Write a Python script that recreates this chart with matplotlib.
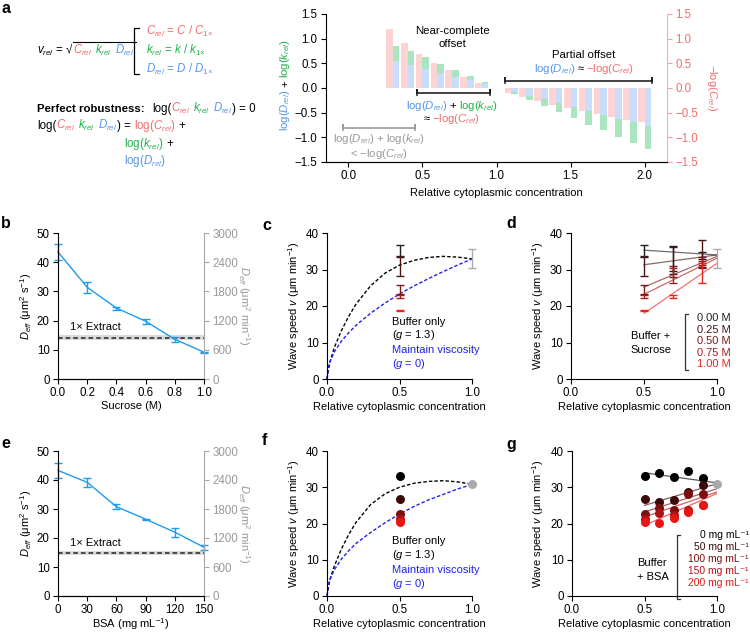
import matplotlib
matplotlib.use('Agg')
import matplotlib.pyplot as plt
import matplotlib.transforms as mtransforms
from matplotlib.lines import Line2D

plt.rcParams['font.family'] = ['Liberation Sans', 'DejaVu Sans']
plt.rcParams['mathtext.fontset'] = 'custom'
plt.rcParams['mathtext.rm'] = 'Liberation Sans'
plt.rcParams['mathtext.it'] = 'Liberation Sans:italic'
plt.rcParams['mathtext.bf'] = 'Liberation Sans:bold'
plt.rcParams['font.size'] = 8
plt.rcParams['axes.linewidth'] = 0.8
plt.rcParams['axes.labelpad'] = 2.5
for a in ['xtick', 'ytick']:
    plt.rcParams[a + '.major.size'] = 3.5
    plt.rcParams[a + '.major.width'] = 0.8
    plt.rcParams[a + '.labelsize'] = 8.3
    plt.rcParams[a + '.major.pad'] = 2.5

# --- datos panel a ---
conc_lo = [0.3, 0.4, 0.5, 0.6, 0.7, 0.8, 0.9]
conc_hi = [1.1, 1.2, 1.3, 1.4, 1.5, 1.6, 1.7, 1.8, 1.9, 2.0]
neglogC_lo = [1.20, 0.92, 0.69, 0.51, 0.36, 0.22, 0.11]
neglogC_hi = [-0.10, -0.18, -0.26, -0.34, -0.41, -0.47, -0.53, -0.59, -0.64, -0.69]
logD_lo = [0.54, 0.46, 0.39, 0.31, 0.23, 0.16, 0.08]
logk_lo = [0.32, 0.28, 0.23, 0.18, 0.14, 0.08, 0.04]
logD_hi = [-0.075, -0.16, -0.23, -0.31, -0.39, -0.47, -0.54, -0.62, -0.69, -0.77]
logk_hi = [-0.04, -0.08, -0.14, -0.18, -0.22, -0.27, -0.32, -0.37, -0.42, -0.46]

# --- datos paneles b / e ---
sucrose_M = [0.0, 0.2, 0.4, 0.6, 0.8, 1.0]
d_sucrose = [43.5, 31.4, 24.3, 19.8, 13.6, 9.2]
d_sucrose_err = [2.6, 1.8, 0.5, 0.9, 0.9, 0.2]
extract_suc = [13.2, 14.1, 15.0]   # banda inferior, media, banda superior
bsa_mg = [0, 30, 60, 90, 120, 150]
d_bsa = [43.3, 39.2, 30.8, 26.5, 22.0, 16.8]
d_bsa_err = [2.5, 1.6, 0.8, 0.2, 1.6, 0.9]
extract_bsa = [14.1, 14.8, 15.6]

# --- curvas de modelo (c / f) ---
model_x = [0, 0.01, 0.02, 0.05, 0.1, 0.15, 0.2, 0.3, 0.4, 0.5, 0.6, 0.7, 0.8, 0.9, 1.0]
model_buf_c = [0, 2.5, 4.6, 8.6, 13.3, 17.2, 20.5, 25.5, 29.0, 31.2, 32.5, 33.3, 33.6, 33.4, 32.9]
model_visc_c = [0, 3.3, 4.7, 7.4, 10.4, 12.7, 14.7, 18.0, 20.8, 23.3, 25.5, 27.5, 29.4, 31.2, 32.9]
model_buf_f = [0, 2.4, 4.5, 8.2, 13.0, 17.0, 20.3, 25.2, 28.2, 30.0, 31.1, 31.6, 31.8, 31.5, 30.8]
model_visc_f = [0, 3.1, 4.5, 7.2, 10.2, 12.5, 14.5, 17.5, 20.2, 22.6, 24.7, 26.5, 28.0, 29.5, 30.8]

# --- velocidades con sacarosa (c / d) ---
suc_conc = [0.5, 0.7, 0.9]
suc_labels = ['0.00 M', '0.25 M', '0.50 M', '0.75 M', '1.00 M']
suc_colors = ['#231f20', '#4d1616', '#7d1a1a', '#a81c1c', '#ec2420']
suc_speed = [[35.0, 33.0, 33.8], [31.0, 32.5, 34.5], [24.5, 29.5, 32.0],
             [22.6, 28.3, 31.8], [18.8, 22.7, 29.0]]
suc_err = [[1.6, 3.5, 1.0], [2.7, 3.8, 3.7], [1.2, 1.5, 1.5],
           [0.3, 2.0, 0.6], [0.1, 0.4, 2.8]]
fit_x = [0.5, 1.0]
suc_fit = [[35.3, 34.0], [31.3, 34.0], [25.2, 33.6], [23.2, 33.1], [18.0, 31.7]]
ref_suc = [33.0, 2.6]   # extracto 1x (media, error)

# --- velocidades con BSA (f / g) ---
bsa_conc = [0.5, 0.6, 0.7, 0.8, 0.9]
bsa_labels = ['0 mg mL⁻¹', '50 mg mL⁻¹', '100 mg mL⁻¹', '150 mg mL⁻¹', '200 mg mL⁻¹']
bsa_colors = ['#000000', '#3d0a0a', '#7a0f0f', '#b01313', '#e81515']
bsa_speed = [[33.2, 34.0, 32.9, 34.4, 32.5], [26.8, 25.8, 26.6, 28.6, 30.6],
             [22.6, 24.2, 23.8, 28.2, 28.2], [21.2, 22.8, 22.4, 23.6, 25.1],
             [20.3, 20.2, 21.4, 23.2, 25.0]]
bsa_fit = [[34.0, 31.2], [25.0, 31.0], [23.2, 29.6], [21.8, 28.7], [19.5, 28.3]]
ref_bsa = 30.8

RED = '#f26d6d'
GREEN = '#1fb24a'
BLUE = '#5596f0'
GRAY = '#999999'
LBLUE = '#1e9bf0'
VBLUE = '#2020f0'

W, H = 750, 632
fig = plt.figure(figsize=(W / 100, H / 100), dpi=100)
pix = mtransforms.Affine2D().scale(1 / W, -1 / H).translate(0, 1) + fig.transFigure


def rect(l, t, r, b):
    return [l / W, 1 - b / H, (r - l) / W, (b - t) / H]


def ctext(x, y, pieces, transform, ha='left', rot=0, size=8.3, dy=0):
    # texto de varios colores, pieza por pieza
    r = fig.canvas.get_renderer()
    sp = 0.22 * size * fig.dpi / 72
    items = []
    for s, c in pieces:
        lead = len(s) - len(s.lstrip(' '))
        trail = len(s) - len(s.rstrip(' '))
        t = fig.text(0, 0, s.strip(' '), color=c, size=size, rotation=rot,
                     rotation_mode='anchor', ha='left', va='baseline')
        bb = t.get_window_extent(r)
        w = bb.height if rot else bb.width
        items.append((t, lead * sp, w, trail * sp))
    total = sum(a + b + c for _, a, b, c in items)
    off = {'left': 0, 'center': -total / 2, 'right': -total}[ha]
    for t, lead, w, trail in items:
        off += lead
        if rot == 90:
            ox, oy = dy, off
        elif rot == 270:
            ox, oy = dy, -off
        else:
            ox, oy = off, dy
        t.set_transform(mtransforms.offset_copy(transform, fig=fig, x=ox, y=oy, units='dots'))
        t.set_position((x, y))
        off += w + trail
    return [it[0] for it in items]


def style(ax):
    ax.spines['top'].set_visible(False)
    ax.spines['right'].set_visible(False)


def bracket(ax, x0, x1, y, color, h=0.05):
    ax.plot([x0, x0, x0, x1, x1, x1], [y - h, y + h, y, y, y + h, y - h],
            color=color, lw=1.2, clip_on=False)


# ================= panel a (ecuaciones) =================
R = 'black'
t1 = ctext(37, 54, [('$v_{rel}$ = √', R), ('$C_{rel}$', RED), (' $k_{rel}$', GREEN),
                    (' $D_{rel}$', BLUE)], pix)
rdr = fig.canvas.get_renderer()
bb_s = t1[0].get_window_extent(rdr)
bb_e = t1[-1].get_window_extent(rdr)
fig.add_artist(Line2D([bb_s.x1 - 0.5, bb_e.x1 + 2], [bb_s.y1, bb_s.y1], lw=0.8, color=R,
                      transform=mtransforms.IdentityTransform()))
fig.add_artist(Line2D([139 / W, 134 / W, 134 / W, 139 / W],
                      [1 - 28 / H, 1 - 28 / H, 1 - 74 / H, 1 - 74 / H], lw=0.9, color=R))
ctext(146, 35, [('$C_{rel}$ = $C$ / $C_{1×}$', RED)], pix)
ctext(146, 54, [('$k_{rel}$ = $k$ / $k_{1×}$', GREEN)], pix)
ctext(146, 73, [('$D_{rel}$ = $D$ / $D_{1×}$', BLUE)], pix)
fig.text(37 / W, 1 - 112 / H, 'Perfect robustness:', weight='bold', size=8.2, va='baseline')
ctext(152, 112, [('log(', R), ('$C_{rel}$', RED), (' $k_{rel}$', GREEN), (' $D_{rel}$', BLUE),
                 (') = 0', R)], pix)
ctext(37, 129, [('log(', R), ('$C_{rel}$', RED), (' $k_{rel}$', GREEN), (' $D_{rel}$', BLUE),
                (') = ', R), ('log($C_{rel}$)', RED), (' +', R)], pix)
ctext(124, 147, [('log($k_{rel}$)', GREEN), (' +', R)], pix)
ctext(124, 164, [('log($D_{rel}$)', BLUE)], pix)

# ================= panel a (barras) =================
axa = fig.add_axes(rect(326, 14, 667, 162))
bw = 0.045
for cx, nc, ld, lk in [(conc_lo, neglogC_lo, logD_lo, logk_lo),
                       (conc_hi, neglogC_hi, logD_hi, logk_hi)]:
    axa.bar([c - bw for c in cx], nc, bw, align='edge', color='#fdd3d3', lw=0)
    axa.bar(cx, ld, bw, align='edge', color='#c9dcfa', lw=0)
    axa.bar(cx, lk, bw, bottom=ld, align='edge', color='#a9e6bf', lw=0)
axa.set_xlim(-0.15, 2.15)
axa.set_ylim(-1.5, 1.5)
axa.set_xticks([0, 0.5, 1.0, 1.5, 2.0])
axa.set_xticklabels(['0.0', '0.5', '1.0', '1.5', '2.0'])
axa.set_yticks([-1.5, -1.0, -0.5, 0, 0.5, 1.0, 1.5])
axa.set_yticklabels(['−1.5', '−1.0', '−0.5', '0.0', '0.5', '1.0', '1.5'])
axa.spines['top'].set_visible(False)
axa.spines['right'].set_visible(False)
axa.set_xlabel('Relative cytoplasmic concentration', labelpad=4)
axa2 = axa.twinx()
axa2.set_ylim(-1.5, 1.5)
axa2.set_yticks([-1.5, -1.0, -0.5, 0, 0.5, 1.0, 1.5])
axa2.set_yticklabels(['−1.5', '−1.0', '−0.5', '0.0', '0.5', '1.0', '1.5'])
axa2.spines['top'].set_visible(False)
axa2.spines['left'].set_visible(False)
axa2.spines['right'].set_color('#f9b0b0')
axa2.tick_params(axis='y', colors='#f9a0a0', labelcolor=RED)
ctext(709, 88, [('−log($C_{rel}$)', RED)], pix, ha='center', rot=270, size=8)
ctext(288, 85, [('log($D_{rel}$)', BLUE), (' + ', R), ('log($k_{rel}$)', GREEN)], pix,
      ha='center', rot=90, size=8.2)

tr = axa.transData
axa.text(0.70, 1.02, 'Near-complete\noffset', ha='center', va='center', size=8.2, linespacing=1.3)
bracket(axa, 0.464, 0.953, -0.095, '#222222')
ctext(0.70, -0.35, [('log($D_{rel}$)', BLUE), (' + ', R), ('log($k_{rel}$)', GREEN)], tr,
      ha='center', size=8.2, dy=-3.5)
ctext(0.70, -0.62, [('≈ ', R), ('−log($C_{rel}$)', RED)], tr, ha='center', size=8.2, dy=-3.5)
bracket(axa, -0.038, 0.448, -0.81, GRAY)
ctext(0.205, -1.03, [('log($D_{rel}$) + log($k_{rel}$)', GRAY)], tr, ha='center', size=8.2, dy=-3.5)
ctext(0.205, -1.33, [('< −log($C_{rel}$)', GRAY)], tr, ha='center', size=8.2, dy=-3.5)
axa.text(1.59, 0.67, 'Partial offset', ha='center', va='center', size=8.2)
ctext(1.59, 0.39, [('log($D_{rel}$)', BLUE), (' ≈ ', R), ('−log($C_{rel}$)', RED)], tr,
      ha='center', size=8.2, dy=-3.5)
bracket(axa, 1.06, 2.05, 0.15, '#222222')


# ================= paneles b / e =================
def diff_panel(ax, x, y, err, ext, xt, xlim, xlabel, txt_x, lpad):
    ax.axhspan(ext[0], ext[2], color='#d9d9d9', lw=0)
    ax.axhline(ext[1], color='#222222', ls=(0, (3, 2)), lw=1.1)
    ax.text(txt_x, ext[2] + 1.1, '1× Extract', size=8, va='bottom')
    cont = ax.errorbar(x, y, yerr=err, color=LBLUE, lw=1, elinewidth=1, capsize=3, capthick=1)
    for art in cont.get_children():
        art.set_clip_on(False)
    style(ax)
    ax.set_xlim(*xlim)
    ax.set_ylim(0, 50)
    ax.set_xticks(xt)
    ax.set_yticks([0, 10, 20, 30, 40, 50])
    ax.set_xlabel(xlabel, labelpad=lpad)
    ax.set_ylabel('$D_{eff}$ (μm$^2$ s$^{-1}$)', labelpad=2)
    a2 = ax.twinx()
    a2.set_ylim(0, 3000)
    a2.set_yticks([0, 600, 1200, 1800, 2400, 3000])
    a2.spines['top'].set_visible(False)
    a2.spines['left'].set_visible(False)
    a2.spines['right'].set_color('#a8a8a8')
    a2.tick_params(axis='y', colors='#a8a8a8', labelcolor='#999999')
    a2.set_ylabel('$D_{eff}$ (μm$^2$ min$^{-1}$)', color='#999999', rotation=270, labelpad=10)


axb = fig.add_axes(rect(58, 233, 204, 379))
diff_panel(axb, sucrose_M, d_sucrose, d_sucrose_err, extract_suc, [0, 0.2, 0.4, 0.6, 0.8, 1.0],
           (0, 1.0), 'Sucrose (M)', 0.08, 1.5)
axb.set_xticklabels(['0.0', '0.2', '0.4', '0.6', '0.8', '1.0'])
axe = fig.add_axes(rect(58, 451, 204, 596))
diff_panel(axe, bsa_mg, d_bsa, d_bsa_err, extract_bsa, [0, 30, 60, 90, 120, 150],
           (0, 150), 'BSA (mg mL$^{-1}$)', 12, 0)


def speed_axes(ax):
    style(ax)
    ax.set_xlim(0, 1.0)
    ax.set_ylim(0, 40)
    ax.set_xticks([0, 0.5, 1.0])
    ax.set_xticklabels(['0.0', '0.5', '1.0'])
    ax.set_yticks([0, 10, 20, 30, 40])
    ax.set_xlabel('Relative cytoplasmic concentration', labelpad=2)
    ax.set_ylabel('Wave speed $v$ (μm min$^{-1}$)', labelpad=3)


def model_text(ax, ys):
    ax.text(0.45, ys[0], 'Buffer only', va='center', size=8)
    ax.text(0.45, ys[1], '($g$ = 1.3)', va='center', size=8)
    ax.text(0.45, ys[2], 'Maintain viscosity', va='center', size=8, color=VBLUE)
    ax.text(0.45, ys[3], '($g$ = 0)', va='center', size=8, color=VBLUE)


# ================= panel c =================
axc = fig.add_axes(rect(327, 233, 472, 379))
axc.plot(model_x, model_buf_c, color='black', ls=(0, (2.5, 1.5)), lw=1, clip_on=False)
axc.plot(model_x, model_visc_c, color=VBLUE, ls=(0, (2.5, 1.5)), lw=1, clip_on=False)
for sp_, er_, col in zip(suc_speed, suc_err, suc_colors):
    axc.errorbar(suc_conc[0], sp_[0], yerr=er_[0], color=col, capsize=3, lw=1, capthick=1)
axc.errorbar(1.0, ref_suc[0], yerr=ref_suc[1], color='#aaaaaa', capsize=3, lw=1, capthick=1,
             clip_on=False)
speed_axes(axc)
model_text(axc, [15.7, 12.1, 8.0, 4.0])

# ================= panel d =================
axd = fig.add_axes(rect(571, 233, 717, 379))
for sp_, er_, fv, col in zip(suc_speed, suc_err, suc_fit, suc_colors):
    axd.plot(fit_x, fv, color=col, lw=0.9, alpha=0.65)
    axd.errorbar(suc_conc, sp_, yerr=er_, color=col, capsize=3, lw=0, elinewidth=1, capthick=1)
axd.errorbar(1.0, ref_suc[0], yerr=ref_suc[1], color='#aaaaaa', capsize=3, lw=1, capthick=1,
             clip_on=False)
speed_axes(axd)
axd.plot([0.80, 0.78, 0.78, 0.80], [17.7, 17.7, 2.5, 2.5], color='#333333', lw=0.9, clip_on=False)
for i, (lab, col) in enumerate(zip(suc_labels, suc_colors)):
    axd.text(0.86, 16.6 - 3.15 * i, lab, color=col, va='center', size=8)
axd.text(0.41, 11.9, 'Buffer +', va='center', size=8)
axd.text(0.41, 8.0, 'Sucrose', va='center', size=8)

# ================= panel f =================
axf = fig.add_axes(rect(327, 451, 472, 596))
axf.plot(model_x, model_buf_f, color='black', ls=(0, (2.5, 1.5)), lw=1, clip_on=False)
axf.plot(model_x, model_visc_f, color=VBLUE, ls=(0, (2.5, 1.5)), lw=1, clip_on=False)
for sp_, col in zip(bsa_speed, bsa_colors):
    axf.scatter(bsa_conc[0], sp_[0], s=42, color=col, lw=0, zorder=3)
axf.scatter(1.0, ref_bsa, s=42, color='#aaaaaa', lw=0, zorder=3, clip_on=False)
speed_axes(axf)
model_text(axf, [15.1, 11.3, 7.2, 3.3])

# ================= panel g =================
axg = fig.add_axes(rect(572, 451, 717, 596))
for sp_, fv, col in zip(bsa_speed, bsa_fit, bsa_colors):
    axg.plot(fit_x, fv, color=col, lw=0.9, alpha=0.65)
    axg.scatter(bsa_conc, sp_, s=42, color=col, lw=0, zorder=3)
axg.scatter(1.0, ref_bsa, s=42, color='#aaaaaa', lw=0, zorder=3, clip_on=False)
speed_axes(axg)
axg.plot([0.744, 0.724, 0.724, 0.744], [16.8, 16.8, -0.9, -0.9], color='#333333', lw=0.9,
         clip_on=False)
for i, (lab, col) in enumerate(zip(bsa_labels, bsa_colors)):
    axg.text(1.22, 16.7 - 3.3 * i, lab, color=col, va='center', ha='right', size=7.4)
axg.text(0.448, 9.0, 'Buffer', va='center', size=8)
axg.text(0.448, 5.3, '+ BSA', va='center', size=8)

# letras de panel
for lab, x, y in [('a', 1, 1), ('b', 1, 216), ('c', 262, 218), ('d', 506, 216),
                  ('e', 1, 436), ('f', 262, 433), ('g', 506, 437)]:
    fig.text(x / W, 1 - y / H, lab, weight='bold', size=11.5, va='top', ha='left')

fig.savefig('out.png', dpi=100)
